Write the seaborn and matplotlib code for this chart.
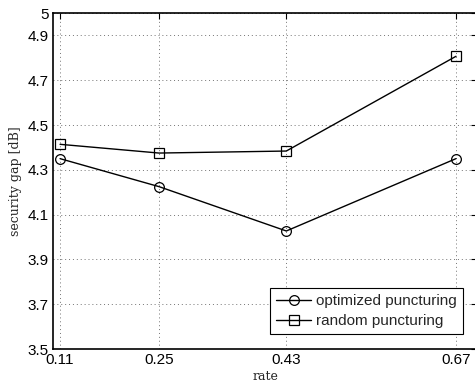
import matplotlib
matplotlib.use("Agg")
import matplotlib.pyplot as plt
import seaborn as sns
import pandas as pd

rates = [0.11, 0.25, 0.43, 0.67]
optimized = [4.35, 4.225, 4.027, 4.35]
random_p = [4.414, 4.375, 4.384, 4.807]
yticks = [3.5, 3.7, 3.9, 4.1, 4.3, 4.5, 4.7, 4.9, 5]
ytick_labels = ["3.5", "3.7", "3.9", "4.1", "4.3", "4.5", "4.7", "4.9", "5"]
xtick_labels = ["0.11", "0.25", "0.43", "0.67"]

sns.set_style("white")
plt.rcParams['font.family'] = ['Liberation Sans', 'DejaVu Sans']

fig = plt.figure(figsize=(4.75, 3.85), dpi=100)
ax = fig.add_axes([0.1116, 0.0935, 0.893, 0.8725])

df = pd.DataFrame({
    "rate": rates * 2,
    "gap": optimized + random_p,
    "scheme": ["optimized puncturing"] * 4 + ["random puncturing"] * 4,
})

for name, mk in [("optimized puncturing", "o"), ("random puncturing", "s")]:
    sub = df[df["scheme"] == name]
    sns.lineplot(data=sub, x="rate", y="gap", ax=ax, color="black", lw=1,
                 marker=mk, markersize=7 if mk == "o" else 6.5,
                 markerfacecolor="none", markeredgecolor="black",
                 markeredgewidth=0.9, label=name)

ax.set_xlim(0.1, 0.7)
ax.set_ylim(3.5, 5)
ax.set_xticks(rates)
ax.set_xticklabels(xtick_labels)
ax.set_yticks(yticks)
ax.set_yticklabels(ytick_labels)
ax.tick_params(direction="in", length=4, width=0.8, labelsize=11, colors="black",
               top=True, right=True, pad=3)
ax.grid(True, linestyle=(0, (1, 3)), color="0.45", lw=0.7)
for s in ax.spines.values():
    s.set_color("black")
    s.set_linewidth(1.2)

ax.set_xlabel("rate", family="DejaVu Serif", fontsize=9, labelpad=2)
ax.set_ylabel("security gap [dB]", family="DejaVu Serif", fontsize=9, labelpad=4)

leg = ax.legend(loc="lower right", fontsize=11, frameon=True, fancybox=False,
                edgecolor="black", framealpha=1, borderpad=0.4, handlelength=2.3,
                handletextpad=0.3, labelspacing=0.4, borderaxespad=0.95)
leg.get_frame().set_linewidth(0.8)

fig.savefig("out.png", dpi=100)
